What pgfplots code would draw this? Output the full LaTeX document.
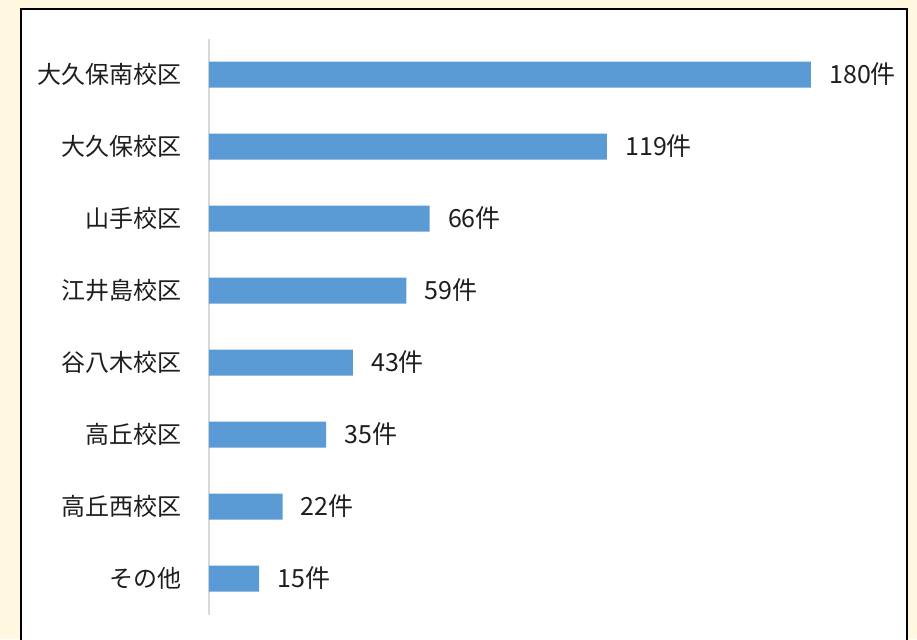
\documentclass[border=0pt]{standalone}
\usepackage{fontspec}
\setmainfont{Noto Sans CJK JP}
\usepackage{pgfplots}
\pgfplotsset{compat=1.18}
\definecolor{cream}{RGB}{255,247,224}
\definecolor{barblue}{RGB}{91,155,213}
\definecolor{axgray}{RGB}{217,217,217}
\definecolor{txt}{RGB}{30,30,30}
\begin{document}
\begin{tikzpicture}
\clip (0,0) rectangle (458.5pt,319.5pt);
\fill[cream] (0,0) rectangle (458.5pt,319.5pt);
\filldraw[fill=white,draw=black,line width=1pt] (10.5pt,-10pt) rectangle (453.5pt,315pt);
\begin{axis}[
  at={(104.5pt,12.25pt)}, anchor=south west,
  scale only axis, width=334.4pt, height=288pt,
  xmin=0, xmax=200, ymin=-0.5, ymax=7.5,
  y dir=reverse,
  xbar, bar width=13pt,
  axis x line=none, axis y line*=left,
  y axis line style={draw=axgray, line width=0.9pt},
  major tick length=0pt,
  /pgf/number format/assume math mode=true,
  ytick={0,1,2,3,4,5,6,7},
  yticklabels={大久保南校区,大久保校区,山手校区,江井島校区,谷八木校区,高丘校区,高丘西校区,その他},
  yticklabel style={font=\fontsize{12}{14}\selectfont, inner sep=0pt, xshift=-13.5pt, text=txt},
  clip=false,
  nodes near coords={\pgfmathprintnumber{\pgfplotspointmeta}件},
  nodes near coords style={font=\fontsize{12.5}{14}\selectfont, anchor=west, inner sep=0pt, xshift=9pt, text=txt},
]
\addplot[fill=barblue, draw=none] coordinates {(180,0) (119,1) (66,2) (59,3) (43,4) (35,5) (22,6) (15,7)};
\end{axis}
\end{tikzpicture}
\end{document}
